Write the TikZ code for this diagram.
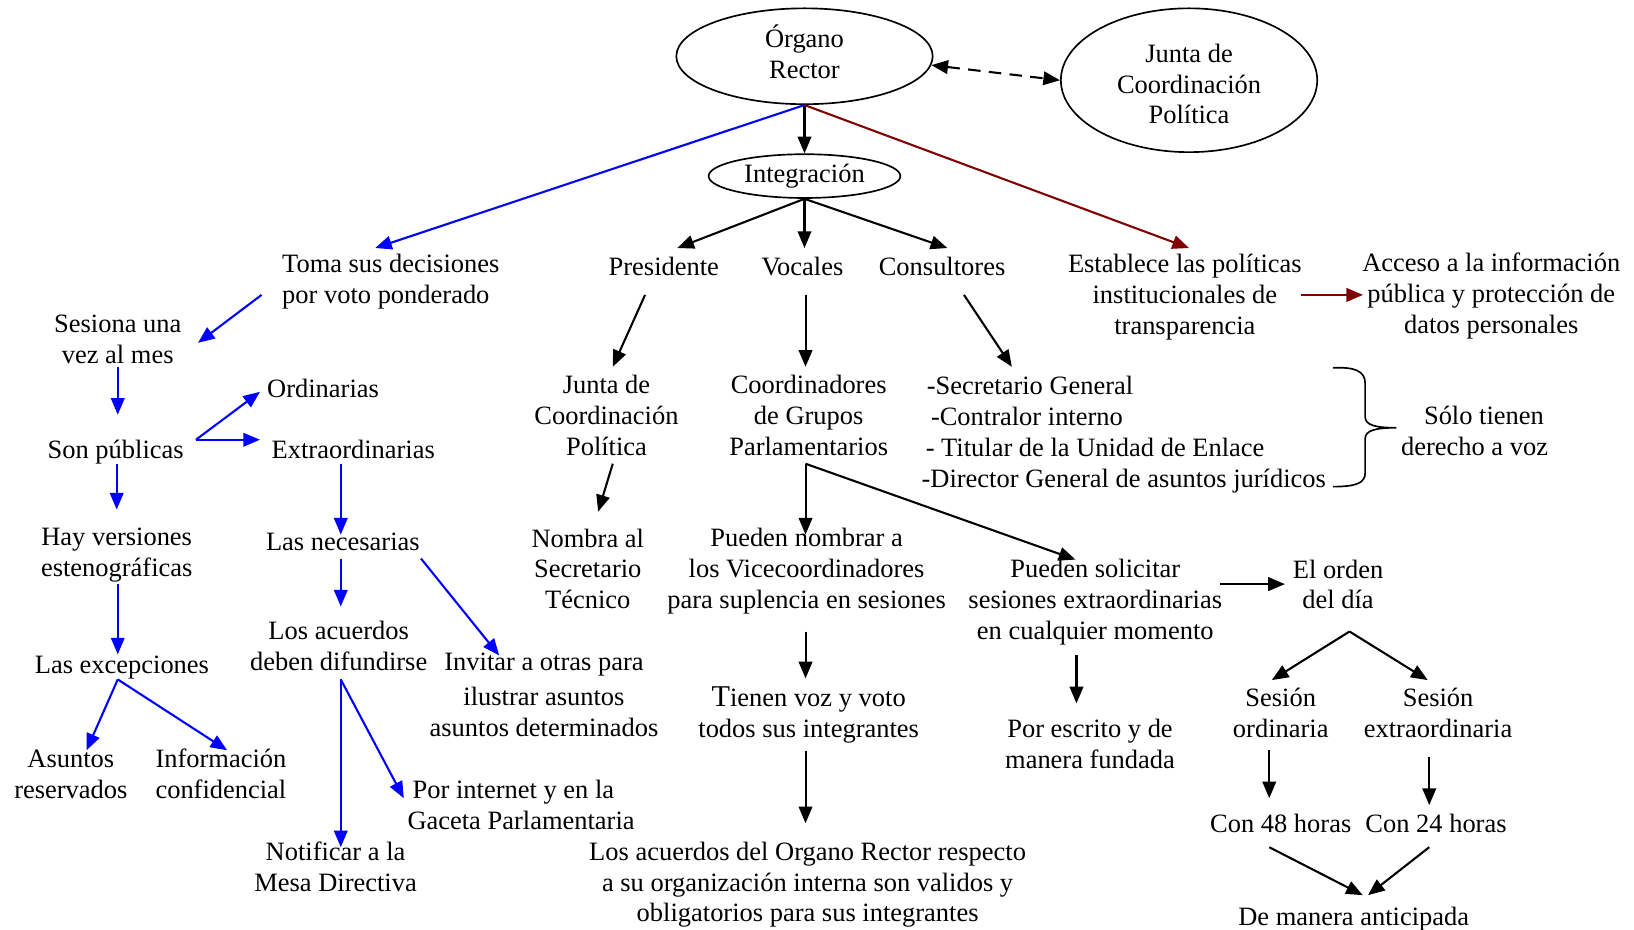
\documentclass[tikz,border=0pt]{standalone}
\usepackage{fontspec}
\setmainfont{Liberation Serif}
\usetikzlibrary{arrows.meta,shapes.geometric}
\definecolor{dred}{RGB}{128,0,0}
% uniform line height for the text blocks
\newcommand\tstrut{\rule[-2.3pt]{0pt}{13.9pt}}
\newcommand\brk{\\\tstrut}
\begin{document}
\begin{tikzpicture}[x=0.5pt,y=-0.5pt,
  every node/.style={font=\fontsize{12.7}{14.8}\selectfont},
  txt/.style={align=center,inner sep=0pt,execute at begin node=\tstrut},
  ellbase/.style={ellipse,draw,line width=0.8pt,inner sep=0pt,align=center},
  ell/.style={ellbase,execute at begin node=\strut},
  conn/.style={line width=1pt,-{Triangle[length=8pt,width=6.5pt]}},
  bconn/.style={conn,blue},
  rconn/.style={conn,dred}]
\useasboundingbox (0,0) rectangle (1568,892);

% ellipses
\node[ell,minimum width=123pt,minimum height=46pt] (organo) at (772,54) {Órgano\\\strut Rector};
\node[ellbase,minimum width=123pt,minimum height=69pt] (junta) at (1141,77) {\rule{0pt}{12.4pt}Junta de\\\strut Coordinación\\Política};
\node[ell,minimum width=92pt,minimum height=21pt] (integ) at (772,169) {Integración};

% second row
\node[txt,align=left] (toma) at (375,270) {Toma sus decisiones\brk por voto ponderado};
\node[txt] (pres) at (637,255) {Presidente};
\node[txt] (voc) at (770,255) {Vocales};
\node[txt] (cons) at (904,255) {Consultores};
\node[txt] (estab) at (1137,285) {Establece las políticas\brk institucionales de\brk transparencia};
\node[txt] (acceso) at (1431,284) {Acceso a la información\brk pública y protección de\brk datos personales};

% left branch
\node[txt] (sesiona) at (113,328) {Sesiona una\brk vez al mes};
\node[txt] (ordin) at (310,372) {Ordinarias};
\node[txt] (sonpub) at (111,431) {Son públicas};
\node[txt] (extra) at (339,431) {Extraordinarias};
\node[txt] (hayv) at (112,533) {Hay versiones\brk estenográficas};
\node[txt] (necs) at (329,519) {Las necesarias};
\node[txt] (excep) at (117,637) {Las excepciones};
\node[txt] (acuerd) at (325,622) {Los acuerdos\brk deben difundirse};
\node[txt] (invitar) at (522,669) {Invitar a otras para\\[2pt]\tstrut ilustrar asuntos\brk asuntos determinados};
\node[txt] (asuntos) at (68,745) {Asuntos\brk reservados};
\node[txt] (info) at (212,745) {Información\brk confidencial};
\node[txt,align=left] (internet) at (500,775) {\hspace{2.5pt}Por internet y en la\brk Gaceta Parlamentaria};
\node[txt] (notif) at (322,834) {Notificar a la\brk Mesa Directiva};

% middle branch
\node[txt] (juntab) at (582,401) {Junta de\brk Coordinación\brk Política};
\node[txt] (nombra) at (564,548) {Nombra al\brk Secretario\brk Técnico};
\node[txt] (coord) at (776,401) {Coordinadores\brk de Grupos\brk Parlamentarios};
\node[txt] (pnomb) at (774,548) {Pueden nombrar a\brk los Vicecoordinadores\brk para suplencia en sesiones};
\node[txt] (tienen) at (776,686) {{\fontsize{14.5}{14.8}\selectfont T}ienen voz y voto\brk todos sus integrantes};
\node[txt] (acuerdos2) at (775,849) {Los acuerdos del Organo Rector respecto\brk a su organización interna son validos y\brk obligatorios para sus integrantes};

% right branch
\node[txt,align=left,anchor=west] (lista) at (884,417) {\hspace{2.5pt}-Secretario General\brk\hspace{4.5pt}-Contralor interno\brk\hspace{2pt}- Titular de la Unidad de Enlace\brk -Director General de asuntos jurídicos};
\node[txt] (solo) at (1415,416) {\hspace{9pt}Sólo tienen\brk derecho a voz};
\node[txt] (psol) at (1051,578) {Pueden solicitar\brk sesiones extraordinarias\brk en cualquier momento};
\node[txt] (orden) at (1284,563) {El orden\brk del día};
\node[txt] (escrito) at (1046,716) {Por escrito y de\brk manera fundada};
\node[txt] (sord) at (1229,686) {Sesión\hspace{7pt}\brk ordinaria};
\node[txt] (sext) at (1380,686) {Sesión\hspace{12pt}\brk extraordinaria};
\node[txt] (c48) at (1229,790) {Con 48 horas};
\node[txt] (c24) at (1378,790) {Con 24 horas};
\node[txt] (antic) at (1299,879) {De manera anticipada};

% brace grouping the advisers
\draw[line width=0.8pt] (1279,353) .. controls (1300,352) and (1310,356) .. (1310,368) -- (1310,400)
  .. controls (1310,408) and (1320,410.5) .. (1340,410.5)
  .. controls (1320,410.5) and (1310,413) .. (1310,421) -- (1310,454)
  .. controls (1310,464) and (1300,467) .. (1279,467);

% connectors from the top
\draw[conn] (organo.south) -- (integ.north);
\draw[bconn] (organo.south) -- ([shift={(-15,-32)}]toma.center);
\draw[rconn] (organo.south) -- ([shift={(4,-47)}]estab.center);
\draw[line width=1pt,dashed,dash pattern=on 6pt off 4pt,{Triangle[length=8pt,width=6.5pt]}-{Triangle[length=8pt,width=6.5pt]}] (organo.-4) -- (junta.west);
\draw[conn] (integ.south) -- ([shift={(13,-17)}]pres.center);
\draw[conn] (integ.south) -- ([shift={(2,-17)}]voc.center);
\draw[conn] (integ.south) -- ([shift={(5,-17)}]cons.center);

% left branch connectors
\draw[bconn] ([shift={(-124,13)}]toma.center) -- ([shift={(77,1)}]sesiona.center);
\draw[bconn] ([shift={(0,24)}]sesiona.center) -- ([shift={(2,-33)}]sonpub.center);
\draw[bconn] ([shift={(77,-9)}]sonpub.center) -- ([shift={(-60.5,4)}]ordin.center);
\draw[bconn] ([shift={(77,-9)}]sonpub.center) -- ([shift={(-89.5,-9)}]extra.center);
\draw[bconn] ([shift={(1,14)}]sonpub.center) -- ([shift={(0,-44)}]hayv.center);
\draw[bconn] ([shift={(-12,14)}]extra.center) -- ([shift={(-2,-6)}]necs.center);
\draw[bconn] ([shift={(-2,17)}]necs.center) -- ([shift={(2,-40)}]acuerd.center);
\draw[bconn] ([shift={(75,17)}]necs.center) -- ([shift={(-43,-40)}]invitar.center);
\draw[bconn] ([shift={(1,27)}]hayv.center) -- ([shift={(-4,-9)}]excep.center);
\draw[bconn] ([shift={(-4,15)}]excep.center) -- ([shift={(15,-25)}]asuntos.center);
\draw[bconn] ([shift={(-4,15)}]excep.center) -- ([shift={(6,-25)}]info.center);
\draw[bconn] ([shift={(2,30)}]acuerd.center) -- ([shift={(5,-21)}]notif.center);
\draw[bconn] ([shift={(2,30)}]acuerd.center) -- ([shift={(-112.5,-9)}]internet.center);

% middle branch connectors
\draw[conn] ([shift={(-18,28)}]pres.center) -- ([shift={(6,-49)}]juntab.center);
\draw[conn] ([shift={(6,44)}]juntab.center) -- ([shift={(10,-57)}]nombra.center);
\draw[conn] ([shift={(3,28)}]voc.center) -- ([shift={(-3,-49)}]coord.center);
\draw[conn] ([shift={(-3,44)}]coord.center) -- ([shift={(-1,-35)}]pnomb.center);
\draw[conn] ([shift={(-3,44)}]coord.center) -- ([shift={(-19,-41)}]psol.center);
\draw[conn] ([shift={(-1,58)}]pnomb.center) -- ([shift={(-3,-35)}]tienen.center);
\draw[conn] ([shift={(-3,35)}]tienen.center) -- ([shift={(-2,-59)}]acuerdos2.center);

% right branch connectors
\draw[conn] ([shift={(21,28)}]cons.center) -- ([shift={(87,-65)}]lista.west);
\draw[rconn] ([shift={(111,-2)}]estab.center) -- ([shift={(-123,-1)}]acceso.center);
\draw[conn] ([shift={(120,-17.5)}]psol.center) -- ([shift={(-51,-2.5)}]orden.center);
\draw[conn] ([shift={(-18,50.5)}]psol.center) -- ([shift={(-13,-41)}]escrito.center);
\draw[conn] ([shift={(11,43)}]orden.center) -- ([shift={(-8.5,-33.4)}]sord.center);
\draw[conn] ([shift={(11,43)}]orden.center) -- ([shift={(-10,-33.4)}]sext.center);
\draw[conn] ([shift={(-11,34)}]sord.center) -- ([shift={(-11,-24)}]c48.center);
\draw[conn] ([shift={(-8.5,40.6)}]sext.center) -- ([shift={(-6.5,-17.4)}]c24.center);
\draw[conn] ([shift={(-11,23)}]c48.center) -- ([shift={(8.7,-20)}]antic.center);
\draw[conn] ([shift={(-6.5,23)}]c24.center) -- ([shift={(13.7,-20)}]antic.center);
\end{tikzpicture}
\end{document}
